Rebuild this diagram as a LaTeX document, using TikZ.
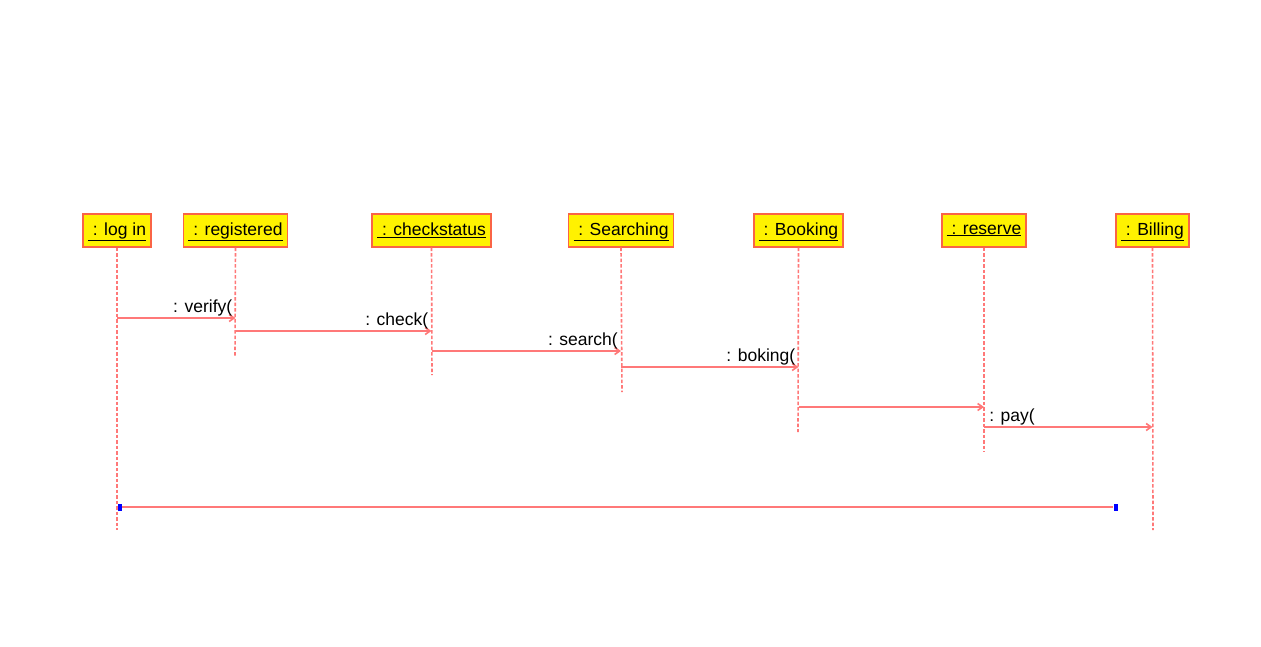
\documentclass[tikz,border=0pt]{standalone}
\usepackage{fontspec}
\setmainfont{Liberation Sans}
\usetikzlibrary{arrows.meta,positioning}
\definecolor{lifered}{RGB}{255,120,120}
\definecolor{boxred}{RGB}{250,100,70}

\begin{document}
\begin{tikzpicture}[x=1pt,y=-1pt,->,>={Straight Barb[length=5pt,width=7pt]},thin,font=\fontsize{17.5}{20}\selectfont]
\tikzstyle{obj}=[draw=boxred,fill=yellow,line width=1.6pt,minimum height=33pt,inner xsep=5pt,inner ysep=0pt,anchor=north,text depth=2pt]
\tikzstyle{life}=[-,draw=lifered,line width=1.6pt,dash pattern=on 3.5pt off 2pt]
\tikzstyle{msg}=[draw=lifered,line width=1.6pt]
\tikzstyle{lbl}=[anchor=south east,inner sep=1.5pt,xshift=-1pt,text=black]
\tikzstyle{endmark}=[fill=blue,minimum width=4pt,minimum height=7pt,inner sep=0pt]

\useasboundingbox (0,0) rectangle (1261,646);

% objects
\node[obj] (L) at (117,213)  {\underline{\ : log in}};
\node[obj] (R) at (235.5,213)  {\underline{\ : registered}};
\node[obj] (C) at (431.5,213)  {\underline{\ : checkstatus}};
\node[obj] (S) at (621,213)  {\underline{\ : Searching}};
\node[obj] (K) at (798.5,213)  {\underline{\ : Booking}};
\node[obj] (V) at (984,213)  {\underline{\ : reserve}};
\node[obj] (B) at (1152.5,213) {\underline{\ : Billing}};

% lifeline ends
\coordinate (Le) at (117,530);
\coordinate (Re) at (235,356);
\coordinate (Ce) at (432,375);
\coordinate (Se) at (622,392);
\coordinate (Ke) at (798,432);
\coordinate (Ve) at (984,452);
\coordinate (Be) at (1153,530);

\path[life]
(L.south) edge (Le)
(R.south) edge (Re)
(C.south) edge (Ce)
(S.south) edge (Se)
(K.south) edge (Ke)
(V.south) edge (Ve)
(B.south) edge (Be)
;

\path
(L.south |- 0,318) edge[msg] node[lbl,pos=1] {: verify(} (R.south |- 0,318)
(R.south |- 0,331) edge[msg] node[lbl,pos=1] {: check(} (C.south |- 0,331)
(C.south |- 0,351) edge[msg] node[lbl,pos=1] {: search(} (S.south |- 0,351)
(S.south |- 0,367) edge[msg] node[lbl,pos=1] {: boking(} (K.south |- 0,367)
(K.south |- 0,407) edge[msg] (V.south |- 0,407)
(V.south |- 0,427) edge[msg] node[lbl,pos=0,anchor=south west,xshift=4pt] {: pay(} (B.south |- 0,427)
;

% return bar
\node[endmark] (m1) at (119.5,507) {};
\node[endmark] (m2) at (1115.5,507) {};
\draw[msg,-] (m1) -- (m2);
\end{tikzpicture}
\end{document}
